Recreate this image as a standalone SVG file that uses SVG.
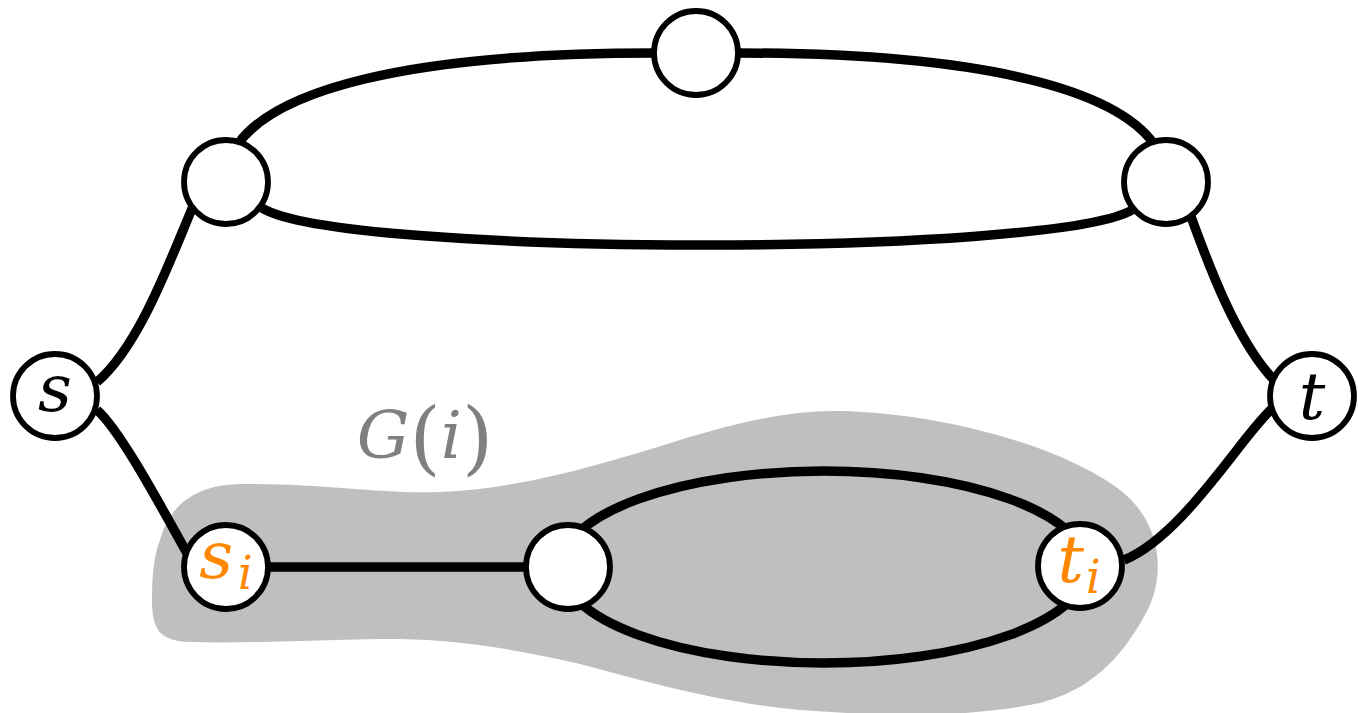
<svg xmlns="http://www.w3.org/2000/svg" width="1358" height="713" viewBox="0 0 1358 713">
<style>
.edge{fill:none;stroke:#000;stroke-width:9.5;stroke-linecap:butt}
.node{fill:#fff;stroke:#000;stroke-width:5.8}
.lbl{font-family:"DejaVu Serif",serif;font-style:italic;font-size:66px}
.or{fill:#FF8800}
</style>
<rect width="1358" height="713" fill="#fff"/>
<g id="region">
<path d="M160,540 C170,505 195,485 240,484 C320,483 380,494 440,492 C520,489 600,465 680,440 C740,422 790,410 840,411 C940,413 1060,445 1120,490 C1165,525 1165,580 1145,615 C1120,660 1090,690 1040,703 C960,720 870,715 800,710 C720,703 640,680 580,664 C520,650 460,640 400,639 C330,639 250,644 190,642 C160,641 152,630 152,600 C152,575 154,555 160,540 Z" fill="#BFBFBF"/>
<text x="425" y="458" text-anchor="middle" fill="#808080" font-family="DejaVu Serif, serif" font-size="66"><tspan font-style="italic">G</tspan><tspan font-size="80" dy="7">(</tspan><tspan font-style="italic" dy="-7">i</tspan><tspan font-size="80" dy="7">)</tspan></text>
</g>
<g id="connectors">
<path class="edge" d="M238,144 C275,92 400,53 654,53"/>
<path class="edge" d="M738,53 C992,53 1117,92 1154,144"/>
<path class="edge" d="M262,208 C340,257 1052,257 1132,210"/>
<path class="edge" d="M194,204 C170,260 140,345 97,382"/>
<path class="edge" d="M1190,214 C1205,255 1235,340 1275,381"/>
<path class="edge" d="M97,410 C120,430 160,505 187,553"/>
<path class="edge" d="M1275,406 C1245,430 1185,535 1124,560"/>
<path class="edge" d="M268,567 L526,567"/>
<ellipse class="edge" cx="824" cy="567" rx="263" ry="96"/>
</g>
<g id="n_top"><circle class="node" cx="696" cy="53" r="42"/></g>
<g id="n_ul"><circle class="node" cx="226" cy="182" r="42"/></g>
<g id="n_ur"><circle class="node" cx="1166" cy="182" r="42"/></g>
<g id="n_s"><circle class="node" cx="55" cy="396" r="42"/><text class="lbl" x="55" y="411" text-anchor="middle">s</text></g>
<g id="n_t"><circle class="node" cx="1312" cy="396" r="42"/><text class="lbl" x="1312" y="419" text-anchor="middle">t</text></g>
<g id="n_si"><circle class="node" cx="226" cy="567" r="42"/><text class="lbl or" x="226" y="578" text-anchor="middle">s<tspan font-size="46" dx="5" dy="11">i</tspan></text></g>
<g id="n_mid"><circle class="node" cx="568" cy="567" r="42"/></g>
<g id="n_ti"><circle class="node" cx="1080" cy="566" r="42"/><text class="lbl or" x="1079" y="582" text-anchor="middle">t<tspan font-size="46" dx="2" dy="11">i</tspan></text></g>
</svg>
